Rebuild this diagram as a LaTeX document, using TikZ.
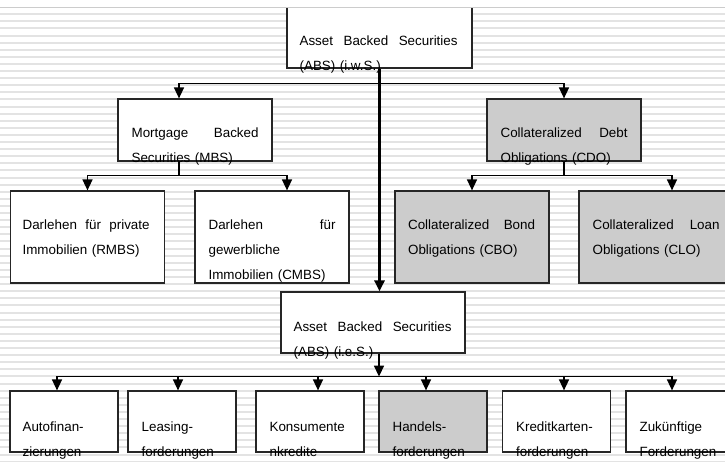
\documentclass[tikz,border=0pt]{standalone}
\usepackage{fontspec}
\setmainfont{Liberation Sans}
\usetikzlibrary{arrows.meta}

\begin{document}
\begin{tikzpicture}[x=1pt,y=-1pt,
  box/.style={draw=black!85,line width=1.2pt,fill=white,minimum width=154pt,minimum height=62pt,inner sep=0pt},
  grau/.style={fill=black!20},
  unten/.style={box,minimum width=108pt,minimum height=61pt},
  txt/.style={anchor=base west,inner sep=0pt,text width=127pt,font=\fontsize{13.4}{25}\selectfont},
  pfeil/.style={line width=1.5pt,-{Triangle[width=10pt,length=11pt]}},
  linie/.style={line width=1.5pt}]

\useasboundingbox (0,0) rectangle (725,462);
\clip (0,0) rectangle (725,462);
\fill[white] (0,0) rectangle (725,462);
\foreach \i in {0,...,63}
  \fill[black!11] (0,{13.3+7.1*\i}) rectangle (725,{15.3+7.1*\i});

\node[box,minimum width=185pt] (absiws) at (379.5,37) {};
\node[box] (mbs) at (195,130) {};
\node[box,grau] (cdo) at (564,130) {};
\node[box,minimum height=92pt] (rmbs) at (87.5,237) {};
\node[box,minimum height=92pt] (cmbs) at (272,237) {};
\node[box,grau,minimum height=92pt] (cbo) at (472,237) {};
\node[box,grau,minimum height=92pt] (clo) at (656,237) {};
\node[box,minimum width=184pt,minimum height=61pt] (absies) at (373,322.5) {};
\node[unten] (auto) at (64,421.5) {};
\node[unten] (leasing) at (182,421.5) {};
\node[unten] (konsum) at (310,421.5) {};
\node[unten,grau] (handels) at (433,421.5) {};
\node[unten] (kredit) at (556.5,421.5) {};
\node[unten] (zukunft) at (680,421.5) {};

\fill[white] (0,0) rectangle (725,7);
\draw[black!20] (0,7) -- (725,7);

\node[txt,text width=158pt] (absiws-t) at ([xshift=13pt,yshift=-40pt]absiws.north west) {Asset\hfill Backed\hfill Securities\\(ABS) (i.w.S.)};
\node[txt] (mbs-t) at ([xshift=14pt,yshift=-39.5pt]mbs.north west) {Mortgage\hfill Backed\\Securities (MBS)};
\node[txt] (cdo-t) at ([xshift=14pt,yshift=-39.5pt]cdo.north west) {Collateralized\hfill Debt\\Obligations (CDO)};
\node[txt] (rmbs-t) at ([xshift=12.5pt,yshift=-39.5pt]rmbs.north west) {Darlehen\hfill für\hfill private\\Immobilien (RMBS)};
\node[txt] (cmbs-t) at ([xshift=14pt,yshift=-39.5pt]cmbs.north west) {Darlehen\hfill für\\gewerbliche\\Immobilien (CMBS)};
\node[txt] (cbo-t) at ([xshift=13.5pt,yshift=-39.5pt]cbo.north west) {Collateralized\hfill Bond\\Obligations (CBO)};
\node[txt] (clo-t) at ([xshift=14pt,yshift=-39.5pt]clo.north west) {Collateralized\hfill Loan\\Obligations (CLO)};
\node[txt,text width=158pt] (absies-t) at ([xshift=13pt,yshift=-40pt]absies.north west) {Asset\hfill Backed\hfill Securities\\(ABS) (i.e.S.)};
\node[txt,text width=82pt] (auto-t) at ([xshift=13pt,yshift=-41.5pt]auto.north west) {Autofinan-\\zierungen};
\node[txt,text width=82pt] (leasing-t) at ([xshift=14pt,yshift=-41.5pt]leasing.north west) {Leasing-\\forderungen};
\node[txt,text width=82pt] (konsum-t) at ([xshift=14pt,yshift=-41.5pt]konsum.north west) {Konsumente\\nkredite};
\node[txt,text width=82pt] (handels-t) at ([xshift=14pt,yshift=-41.5pt]handels.north west) {Handels-\\forderungen};
\node[txt,text width=82pt] (kredit-t) at ([xshift=14pt,yshift=-41.5pt]kredit.north west) {Kreditkarten-\\forderungen};
\node[txt,text width=82pt] (zukunft-t) at ([xshift=14pt,yshift=-41.5pt]zukunft.north west) {Zukünftige\\Forderungen};

\draw[line width=3pt,-{Triangle[width=10pt,length=11pt]}] (absiws.south) -- (absiws.south |- absies.north);

\coordinate (v1) at ([yshift=-15pt]absiws.south);
\draw[pfeil] (v1) -| ([xshift=-16pt]mbs.north);
\draw[pfeil] (v1) -| (cdo.north);

\coordinate (v2) at ([xshift=-16pt,yshift=-14pt]mbs.south);
\draw[linie] ([xshift=-16pt]mbs.south) -- (v2);
\draw[pfeil] (v2) -| (rmbs.north);
\draw[pfeil] (v2) -| ([xshift=15pt]cmbs.north);

\coordinate (v3) at ([yshift=-14pt]cdo.south);
\draw[linie] (cdo.south) -- (v3);
\draw[pfeil] (v3) -| (cbo.north);
\draw[pfeil] (v3) -| ([xshift=16pt]clo.north);

\coordinate (v4) at ([xshift=6pt,yshift=-23pt]absies.south);
\draw[pfeil] ([xshift=6pt]absies.south) -- (v4);
\draw[pfeil] (v4) -| ([xshift=-7pt]auto.north);
\draw[pfeil] (v4) -| ([xshift=-4pt]leasing.north);
\draw[pfeil] (v4) -| ([xshift=8pt]konsum.north);
\draw[pfeil] (v4) -| ([xshift=-7pt]handels.north);
\draw[pfeil] (v4) -| ([xshift=7.5pt]kredit.north);
\draw[pfeil] (v4) -| ([xshift=-8pt]zukunft.north);

\end{tikzpicture}
\end{document}
